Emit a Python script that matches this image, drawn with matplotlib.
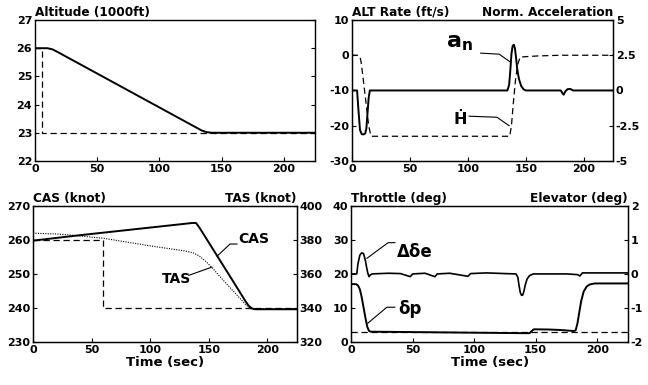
import matplotlib
matplotlib.use('Agg')
import matplotlib.pyplot as plt

plt.rcParams['font.family'] = 'DejaVu Sans'
plt.rcParams['font.weight'] = 'bold'
plt.rcParams['axes.unicode_minus'] = False

#### Data (time in sec)

# Altitude (1000 ft)
alt_t = [0, 10, 14, 18, 134, 138, 142, 225]
alt = [26, 26, 25.96, 25.87, 23.08, 23.02, 23, 23]
alt_cmd_t = [0, 6, 6, 225]
alt_cmd = [26, 26, 23, 23]

# Altitude rate (ft/s), dashed
hdot_t = [0, 6, 7, 8, 9.5, 12, 14.5, 16.5, 136, 137.5, 139, 141, 143, 145, 160, 180, 225]
hdot = [0, 0, -0.5, -2, -6, -13, -20, -23, -23, -20, -14, -7, -2.5, -0.5, -0.2, 0, 0]

# Normal acceleration (right axis), solid
an_t = [0, 4.5, 5.5, 7, 8.5, 10, 11.5, 12.5, 13.5, 14.5, 15.5, 134, 135.5, 136.5, 137.5,
        138.5, 139.5, 140.5, 141.5, 142.5, 144, 146, 148, 150, 180, 181.5, 182.5, 184,
        186, 188.5, 190.5, 225]
an = [0, 0, -1.2, -2.8, -3.1, -3.12, -3.05, -2.7, -1.6, -0.5, 0, 0, 0.4, 1.4, 2.6,
      3.15, 3.25, 3.0, 2.3, 1.5, 0.8, 0.3, 0.08, 0, 0, -0.2, -0.3, -0.05,
      0.1, 0.1, 0, 0]

# CAS (knot), solid / command dashed
cas_t = [0, 10, 40, 80, 120, 136, 139, 142, 150, 170, 181, 184, 187, 190, 225]
cas = [259.8, 260.2, 261.4, 262.9, 264.4, 265.0, 265.0, 263.6, 259.2, 248.2, 242.1, 240.6, 239.8, 239.6, 239.6]
cas_cmd_t = [0, 60, 60, 225]
cas_cmd = [260, 260, 240, 240]

# TAS (knot), right axis, dotted
tas_t = [0, 20, 30, 60, 100, 130, 137, 142, 148, 153, 160, 170, 178, 182, 186, 225]
tas = [384, 383.5, 383, 381, 376.5, 373.5, 372.3, 370.5, 367, 363.5, 358, 350.5, 344.5, 341.5, 339.5, 339.5]

# Throttle (deg), solid / dashed command
thr_t = [0, 4, 5.5, 7, 8.5, 10, 11.5, 13, 14.5, 16, 60, 100, 145, 146.5, 148.5, 160, 170,
         181, 182.5, 184, 185.5, 187, 189, 191.5, 194, 198, 225]
thr = [17, 17, 16.6, 15.5, 13.2, 10.2, 7.2, 4.5, 3.2, 3.0, 2.85, 2.7, 2.55, 3.1, 3.7, 3.65,
       3.5, 3.2, 3.4, 5.5, 8.8, 12, 14.8, 16.3, 16.9, 17.2, 17.2]
thr_cmd_t = [0, 225]
thr_cmd = [2.8, 2.8]

# Elevator deviation (deg), right axis
de_t = [0, 4.5, 5.5, 7, 8.5, 10, 11.5, 12.5, 13.5, 14.5, 15.5, 17, 30, 40, 48, 50, 60, 68,
        70, 80, 95, 97, 110, 125, 134, 135.5, 136.5, 137.5, 138.5, 139.5, 140.5, 141.5,
        143, 145, 148, 175, 184, 186, 188, 225]
de = [0, 0, 0.3, 0.55, 0.62, 0.6, 0.4, 0.2, 0.02, -0.08, -0.03, 0, 0.02, 0.01, -0.08, 0, 0.02, -0.08,
      0, 0.02, -0.07, 0.01, 0.03, 0.01, 0, -0.1, -0.35, -0.55, -0.63, -0.62, -0.5, -0.33,
      -0.15, -0.05, 0, 0, -0.02, -0.06, 0.03, 0.03]

t_ticks = [0, 50, 100, 150, 200]

#### Figure
fig = plt.figure(figsize=(6.48, 3.85), dpi=100)

solid = dict(color='black', lw=1.4)
dashed = dict(color='black', lw=0.9, ls=(0, (5, 3)))
tick_fs = 8
title_fs = 8.7


def style(ax, right=False):
    ax.set_xlim(0, 225)
    ax.set_xticks(t_ticks)
    ax.tick_params(direction='in', length=3, labelsize=tick_fs, pad=2, right=right)
    for sp in ax.spines.values():
        sp.set_linewidth(1.0)


# Altitude
ax1 = fig.add_axes([0.054, 0.582, 0.432, 0.366])
ax1.plot(alt_t, alt, **solid)
ax1.plot(alt_cmd_t, alt_cmd, **dashed)
ax1.set_ylim(22, 27)
style(ax1, right=True)
ax1.set_title('Altitude (1000ft)', loc='left', fontsize=title_fs, fontweight='bold', pad=3)

# ALT rate / normal acceleration
ax2 = fig.add_axes([0.543, 0.582, 0.403, 0.366])
ax2.plot(hdot_t, hdot, **dashed)
ax2.set_ylim(-30, 10)
ax2.set_yticks([-30, -20, -10, 0, 10])
style(ax2)
ax2r = ax2.twinx()
ax2r.plot(an_t, an, **solid)
ax2r.set_ylim(-5, 5)
ax2r.set_yticks([-5, -2.5, 0, 2.5, 5])
ax2r.set_yticklabels(['-5', '-2.5', '0', '2.5', '5'])
ax2r.tick_params(direction='in', length=3, labelsize=tick_fs, pad=2)
ax2.set_title('ALT Rate (ft/s)', loc='left', fontsize=title_fs, fontweight='bold', pad=3)
ax2.set_title('Norm. Acceleration', loc='right', fontsize=title_fs, fontweight='bold', pad=3)
ax2.text(93, 3.6, r'$\mathbf{a_n}$', fontsize=16, ha='center', va='center')
ax2.plot([111, 127, 136], [0.6, 0.3, -1.8], color='black', lw=0.8)
ax2.text(93, -18.2, '\u1e22', fontsize=11.5, ha='center', va='center')
ax2.plot([101, 125, 135.5], [-17.3, -17.6, -20], color='black', lw=0.8)

# CAS / TAS
ax3 = fig.add_axes([0.051, 0.112, 0.407, 0.353])
ax3.plot(cas_t, cas, **solid)
ax3.plot(cas_cmd_t, cas_cmd, **dashed)
ax3.set_ylim(230, 270)
style(ax3)
ax3r = ax3.twinx()
ax3r.plot(tas_t, tas, color='black', lw=0.8, ls=(0, (1, 1.2)))
ax3r.set_ylim(320, 400)
ax3r.set_yticks([320, 340, 360, 380, 400])
ax3r.tick_params(direction='in', length=3, labelsize=tick_fs, pad=2)
ax3.set_title('CAS (knot)', loc='left', fontsize=title_fs, fontweight='bold', pad=3)
ax3.set_title('TAS (knot)', loc='right', fontsize=title_fs, fontweight='bold', pad=3)
ax3.set_xlabel('Time (sec)', fontsize=9.5, fontweight='bold', labelpad=1)
ax3.text(175, 260.3, 'CAS', fontsize=10, ha='left', va='center')
ax3.plot([174, 168, 157], [258.8, 258.8, 255.2], color='black', lw=0.8)
ax3.text(122, 248.5, 'TAS', fontsize=10, ha='center', va='center')
ax3.plot([133, 152.5], [249.6, 252.0], color='black', lw=0.8)

# Throttle / elevator
ax4 = fig.add_axes([0.542, 0.112, 0.427, 0.353])
ax4.plot(thr_t, thr, **solid)
ax4.plot(thr_cmd_t, thr_cmd, **dashed)
ax4.set_ylim(0, 40)
ax4.set_yticks([0, 10, 20, 30, 40])
style(ax4)
ax4r = ax4.twinx()
ax4r.plot(de_t, de, color='black', lw=1.2)
ax4r.set_ylim(-2, 2)
ax4r.set_yticks([-2, -1, 0, 1, 2])
ax4r.tick_params(direction='in', length=3, labelsize=tick_fs, pad=2)
ax4.set_title('Throttle (deg)', loc='left', fontsize=title_fs, fontweight='bold', pad=3)
ax4.set_title('Elevator (deg)', loc='right', fontsize=title_fs, fontweight='bold', pad=3)
ax4.set_xlabel('Time (sec)', fontsize=9.5, fontweight='bold', labelpad=1)
ax4.text(37, 26.5, '\u0394\u03b4e', fontsize=12, ha='left', va='center')
ax4.plot([35.5, 30, 12.8], [29.2, 29.2, 24.6], color='black', lw=0.8)
ax4.text(38, 9.7, '\u03b4p', fontsize=12, ha='left', va='center')
ax4.plot([35.5, 29, 13.5], [10.2, 10.2, 5.5], color='black', lw=0.8)

fig.savefig('out.png', dpi=100)
